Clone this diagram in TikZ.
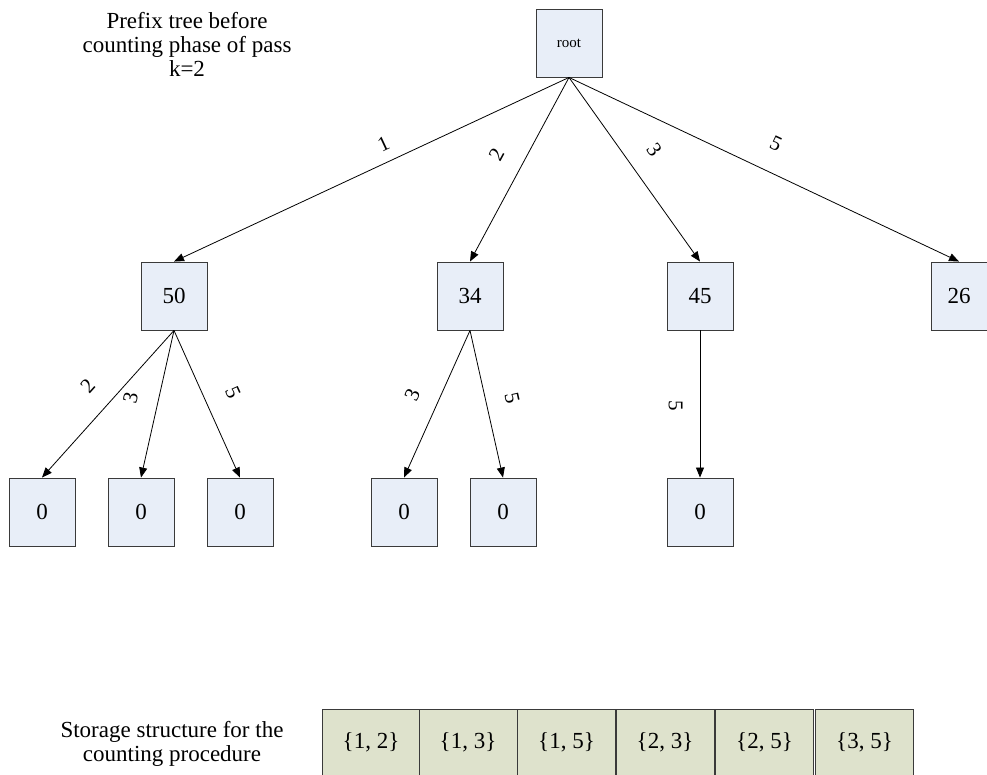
\documentclass[tikz,border=0pt]{standalone}
\usepackage{fontspec}
\setmainfont{Liberation Serif}
\usetikzlibrary{arrows.meta}
\definecolor{treefill}{HTML}{E8EEF8}
\definecolor{storefill}{HTML}{DEE2CC}
\definecolor{boxline}{HTML}{3A3A3A}
\tikzset{
  treebox/.style={draw=boxline, fill=treefill, line width=0.9pt,
    minimum width=66pt, minimum height=68pt, inner sep=0pt,
    font=\fontsize{23}{24}\selectfont},
  storebox/.style={draw=boxline, fill=storefill, line width=0.9pt,
    minimum width=98pt, minimum height=66pt, inner sep=0pt,
    font=\fontsize{23}{24}\selectfont},
  edge/.style={line width=0.8pt, -{Triangle[length=10pt,width=8pt]}},
  elabel/.style={sloped, font=\fontsize{21}{22}\selectfont, inner sep=2pt},
  caption/.style={align=center, font=\fontsize{23}{24}\selectfont}
}
\begin{document}
\begin{tikzpicture}[x=1pt, y=-1pt]
\useasboundingbox (0,0) rectangle (987,775);

% caption of the tree
\node[caption] (title) at (187,44) {Prefix tree before\\counting phase of pass\\k=2};

% tree nodes
\node[treebox, font=\fontsize{15}{17}\selectfont] (root) at (569,43) {root};
\node[treebox] (n1) at (174,296) {50};
\node[treebox] (n2) at (470,296) {34};
\node[treebox] (n3) at (700,296) {45};
\node[treebox, minimum width=56pt] (n5) at (959,296) {26};

\node[treebox] (n12) at (42,512) {0};
\node[treebox] (n13) at (141,512) {0};
\node[treebox] (n15) at (240,512) {0};
\node[treebox] (n23) at (404,512) {0};
\node[treebox] (n25) at (503,512) {0};
\node[treebox] (n35) at (700,512) {0};

% first level edges
\draw[edge] (root.south) -- node[elabel, pos=0.45, above=9pt] {1} (n1.north);
\draw[edge] (root.south) -- node[elabel, pos=0.49, above=18pt] {2} (n2.north);
\draw[edge] (root.south) -- node[elabel, pos=0.48, above=18pt] {3} (n3.north);
\draw[edge] (root.south) -- node[elabel, pos=0.50, above=19pt] {5} (n5.north);

% second level edges
\draw[edge] (n1.south) -- node[elabel, pos=0.50, above=18pt] {2} (n12.north);
\draw[edge] (n1.south) -- node[elabel, pos=0.50, above=18pt] {3} (n13.north);
\draw[edge] (n1.south) -- node[elabel, pos=0.50, above=19pt] {5} (n15.north);
\draw[edge] (n2.south) -- node[elabel, pos=0.51, above=17pt] {3} (n23.north);
\draw[edge] (n2.south) -- node[elabel, pos=0.50, above=17pt] {5} (n25.north);
\draw[edge] (n3.south) -- node[elabel, pos=0.51, below=15pt] {5} (n35.north);

% storage structure
\node[caption] (stcap) at (172,744) {Storage structure for the\\counting procedure};
\node[storebox] (s1) at (371,742) {\{1, 2\}};
\node[storebox] (s2) at (468,742) {\{1, 3\}};
\node[storebox] (s3) at (566.5,742) {\{1, 5\}};
\node[storebox] (s4) at (665,742) {\{2, 3\}};
\node[storebox] (s5) at (764.5,742) {\{2, 5\}};
\node[storebox] (s6) at (864.5,742) {\{3, 5\}};
\end{tikzpicture}
\end{document}
